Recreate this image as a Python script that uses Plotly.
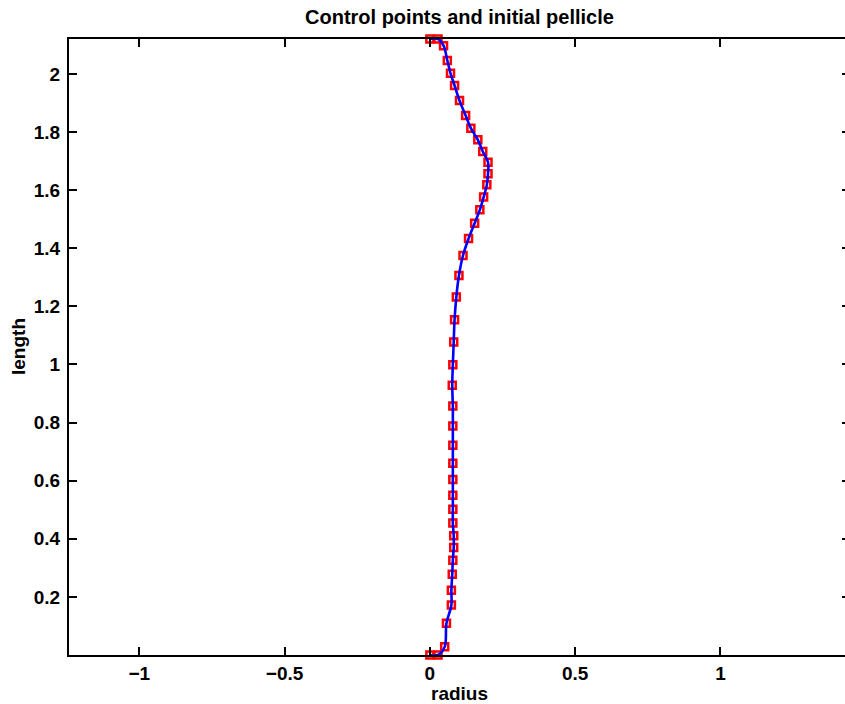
import plotly.graph_objects as go

# Control points (radius, length), bottom to top
radius = [0.0, 0.028, 0.051, 0.057, 0.074, 0.074, 0.077, 0.079, 0.082, 0.082,
          0.079, 0.079, 0.079, 0.079, 0.079, 0.079, 0.079, 0.079, 0.077, 0.079,
          0.082, 0.085, 0.091, 0.100, 0.114, 0.133, 0.154, 0.172, 0.185, 0.196,
          0.200, 0.200, 0.182, 0.165, 0.141, 0.123, 0.102, 0.085, 0.071, 0.060,
          0.047, 0.028, 0.0]
length = [0.0, 0.0, 0.028, 0.109, 0.172, 0.223, 0.278, 0.326, 0.370, 0.410,
          0.454, 0.502, 0.550, 0.604, 0.660, 0.722, 0.788, 0.857, 0.928, 0.999,
          1.077, 1.154, 1.232, 1.306, 1.375, 1.433, 1.486, 1.532, 1.576, 1.618,
          1.656, 1.696, 1.733, 1.773, 1.813, 1.857, 1.908, 1.960, 2.002, 2.046,
          2.097, 2.12, 2.12]

x_ticks = [-1, -0.5, 0, 0.5, 1]
x_tick_labels = ["\u22121", "\u22120.5", "0", "0.5", "1"]
y_ticks = [0.2, 0.4, 0.6, 0.8, 1.0, 1.2, 1.4, 1.6, 1.8, 2.0]
y_tick_labels = ["0.2", "0.4", "0.6", "0.8", "1", "1.2", "1.4", "1.6", "1.8", "2"]

title_text = "Control points and initial pellicle"
x_title = "radius"
y_title = "length"

FONT = "Liberation Sans, Arial, sans-serif"
W, H = 850, 704          # plot frame's right edge sits just past the 845 px window
L, R, T, B = 69, 0, 39, 49
PW = W - L - R
PH = H - T - B
yr = [0.0, 2.12]
scale = PH / (yr[1] - yr[0])
xr = [-1.242, -1.242 + PW / scale]

fig = go.Figure()
fig.add_trace(go.Scatter(
    x=radius, y=length, mode="markers",
    marker=dict(symbol="square-open", size=7, color="#ff0000",
                line=dict(width=2.5, color="#ff0000")),
    cliponaxis=False, showlegend=False, hoverinfo="skip"))
fig.add_trace(go.Scatter(
    x=radius, y=length, mode="lines",
    line=dict(color="#0000ff", width=2.6, shape="spline", smoothing=1.0),
    cliponaxis=False, showlegend=False, hoverinfo="skip"))

tickfont = dict(family=FONT, size=19, color="black", weight="bold")
fig.update_layout(
    width=W, height=H,
    margin=dict(l=L, r=R, t=T, b=B, pad=0, autoexpand=False),
    paper_bgcolor="white", plot_bgcolor="white",
    font=dict(family=FONT, color="black"),
    xaxis=dict(range=xr, tickvals=x_ticks, ticktext=x_tick_labels,
               ticks="inside", ticklen=8, tickwidth=2, tickcolor="black",
               showline=True, linewidth=2, linecolor="black", mirror="ticks",
               showgrid=False, zeroline=False, tickfont=tickfont,
               ticklabelstandoff=0, automargin=False),
    yaxis=dict(range=yr, tickvals=y_ticks, ticktext=y_tick_labels,
               ticks="inside", ticklen=8, tickwidth=2, tickcolor="black",
               showline=True, linewidth=2, linecolor="black", mirror="ticks",
               showgrid=False, zeroline=False, tickfont=tickfont,
               ticklabelstandoff=3, automargin=False),
    annotations=[
        dict(text="<b>%s</b>" % title_text, xref="paper", yref="paper",
             x=(459 - L) / PW, y=(H - B - 17) / PH, xanchor="center",
             yanchor="middle", showarrow=False,
             font=dict(family=FONT, size=20, color="black")),
        dict(text="<b>%s</b>" % x_title, xref="paper", yref="paper",
             x=(459 - L) / PW, y=(H - B - 694) / PH, xanchor="center",
             yanchor="middle", showarrow=False,
             font=dict(family=FONT, size=19, color="black")),
        dict(text="<b>%s</b>" % y_title, xref="paper", yref="paper",
             x=(18 - L) / PW, y=0.5, xanchor="center", yanchor="middle",
             textangle=-90, showarrow=False,
             font=dict(family=FONT, size=19, color="black")),
    ],
)

fig.write_html(
    "out.html",
    config={"displayModeBar": False},
    post_script="document.documentElement.style.overflow='hidden';"
                "document.body.style.margin='0';"
                "document.body.style.overflow='hidden';"
                "document.body.style.width='845px';"
                "document.body.style.height='704px';",
)
